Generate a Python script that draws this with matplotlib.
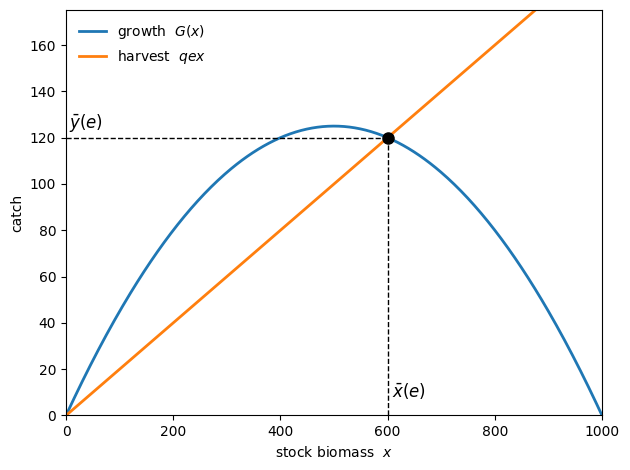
import numpy as np
import matplotlib
matplotlib.use("Agg")
import matplotlib.pyplot as plt

# model parameters
r = 0.5        # intrinsic growth rate
K = 1000.0     # carrying capacity
qe = 0.2       # catchability * effort
x_eq = 600.0   # equilibrium stock
y_eq = 120.0   # equilibrium catch

x = np.linspace(0, K, 400)
G = r * x * (1 - x / K)
H = qe * x

fig, ax = plt.subplots(figsize=(6.3, 4.7), dpi=100)
ax.plot(x, G, lw=2, label=r'growth  $G(x)$')
ax.plot(x, H, lw=2, label=r'harvest  $qex$')
ax.plot([0, x_eq], [y_eq, y_eq], 'k--', lw=1)
ax.plot([x_eq, x_eq], [0, y_eq], 'k--', lw=1)
ax.plot(x_eq, y_eq, 'ko', ms=8)
ax.text(6, 124, r'$\bar{y}(e)$', fontsize=12)
ax.text(608, 8, r'$\bar{x}(e)$', fontsize=12)
ax.set_xlim(0, 1000)
ax.set_ylim(0, 175)
ax.set_xlabel(r'stock biomass  $x$')
ax.set_ylabel('catch')
ax.legend(loc='upper left', frameon=False)
fig.subplots_adjust(left=0.1048, right=0.9556, bottom=0.116, top=0.978)
fig.savefig('out.png')
